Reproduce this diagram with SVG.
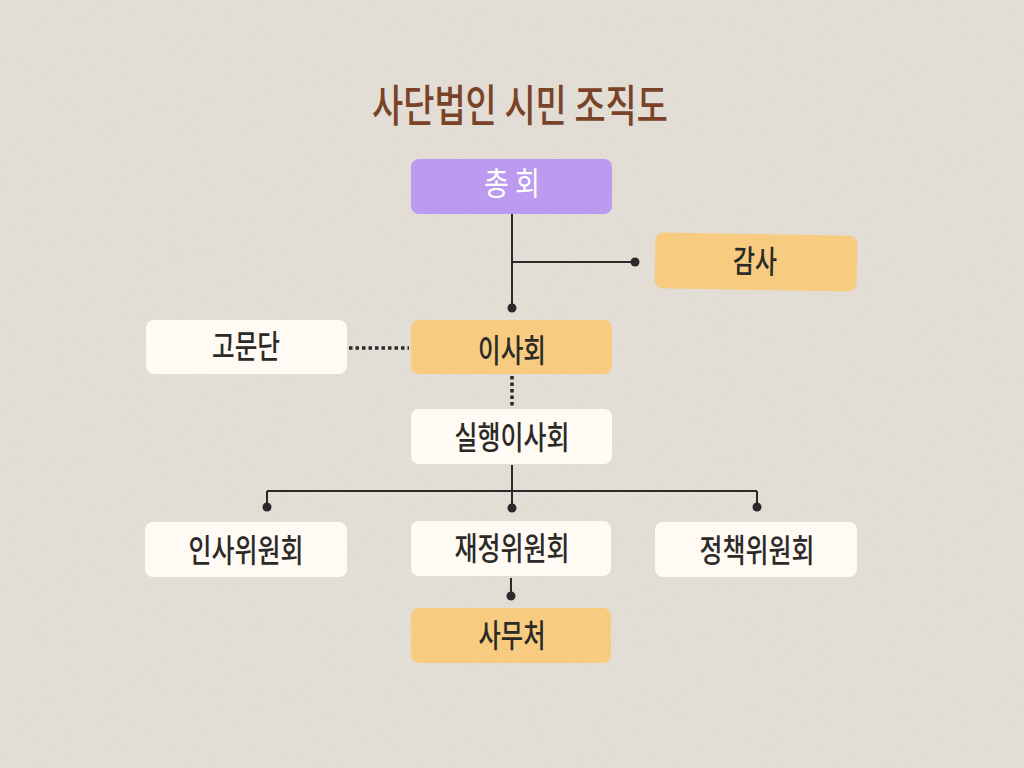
<svg xmlns="http://www.w3.org/2000/svg" width="1024" height="768" viewBox="0 0 1024 768">
<style>
.lbl{font-family:"Noto Sans CJK KR","Noto Sans",sans-serif;font-size:32px;font-weight:500;fill:#2b2a28;text-anchor:middle;dominant-baseline:central}
.white{fill:#fffaf3}
.orange{fill:#f7cc80}
.purple{fill:#bc9af0}
.ln{stroke:#2a2a2a;stroke-width:2;fill:none}
.dot{stroke:#2a2a2a;stroke-width:3.5;fill:none;stroke-dasharray:3.5 3}
</style>
<defs>
<filter id="noise" x="0" y="0" width="100%" height="100%">
<feTurbulence type="fractalNoise" baseFrequency="0.9" numOctaves="2" seed="3" result="t"/>
<feColorMatrix type="matrix" values="0 0 0 0 0.45  0 0 0 0 0.42  0 0 0 0 0.38  0 0 0 0.2 0"/>
</filter>
</defs>
<rect width="1024" height="768" fill="#e7e2da"/>
<rect width="1024" height="768" filter="url(#noise)"/>
<text x="520" y="103" font-family="'Noto Sans CJK KR',sans-serif" font-size="44" font-weight="500" fill="#7a4328" text-anchor="middle" dominant-baseline="central" textLength="296" lengthAdjust="spacingAndGlyphs">사단법인 시민 조직도</text>
<g id="connectors">
<path class="ln" d="M512 214V308M512 262H635"/>
<circle cx="512" cy="308" r="4.5" fill="#2a2a2a"/>
<circle cx="635" cy="262" r="4.5" fill="#2a2a2a"/>
<path class="dot" d="M349 348H409"/>
<path class="dot" d="M512 376V408"/>
<path class="ln" d="M512 465V491M267 491H757M267 491V507M512 491V508M757 491V507"/>
<circle cx="267" cy="507" r="4.5" fill="#2a2a2a"/>
<circle cx="512" cy="508" r="4.5" fill="#2a2a2a"/>
<circle cx="757" cy="507" r="4.5" fill="#2a2a2a"/>
<path class="ln" d="M511 578V596"/>
<circle cx="511" cy="596" r="4.5" fill="#2a2a2a"/>
</g>
<g id="n-chonghoe">
<rect class="purple" x="411" y="159" width="201" height="55" rx="8"/>
<text class="lbl" x="512" y="181" style="fill:#ffffff;font-weight:400" textLength="56" lengthAdjust="spacingAndGlyphs">총 회</text>
</g>
<g id="n-gamsa" transform="rotate(1 756 262)">
<rect class="orange" x="655" y="234" width="202" height="56" rx="8"/>
<text class="lbl" x="755" y="259" textLength="44" lengthAdjust="spacingAndGlyphs">감사</text>
</g>
<g id="n-gomundan">
<rect class="white" x="146" y="320" width="201" height="54" rx="8"/>
<text class="lbl" x="246" y="344" textLength="68" lengthAdjust="spacingAndGlyphs">고문단</text>
</g>
<g id="n-isahoe">
<rect class="orange" x="411" y="320" width="201" height="54" rx="8"/>
<text class="lbl" x="512" y="348" textLength="68" lengthAdjust="spacingAndGlyphs">이사회</text>
</g>
<g id="n-silhaeng">
<rect class="white" x="411" y="409" width="201" height="55" rx="8"/>
<text class="lbl" x="512" y="435" textLength="115" lengthAdjust="spacingAndGlyphs">실행이사회</text>
</g>
<g id="n-insa">
<rect class="white" x="145" y="522" width="202" height="55" rx="8"/>
<text class="lbl" x="246" y="548" textLength="115" lengthAdjust="spacingAndGlyphs">인사위원회</text>
</g>
<g id="n-jaejeong">
<rect class="white" x="411" y="521" width="200" height="55" rx="8"/>
<text class="lbl" x="512" y="546" textLength="115" lengthAdjust="spacingAndGlyphs">재정위원회</text>
</g>
<g id="n-jeongchaek">
<rect class="white" x="655" y="522" width="202" height="55" rx="8"/>
<text class="lbl" x="757" y="548" textLength="115" lengthAdjust="spacingAndGlyphs">정책위원회</text>
</g>
<g id="n-samucheo">
<rect class="orange" x="411" y="608" width="200" height="55" rx="8"/>
<text class="lbl" x="512" y="633" textLength="67" lengthAdjust="spacingAndGlyphs">사무처</text>
</g>
</svg>
